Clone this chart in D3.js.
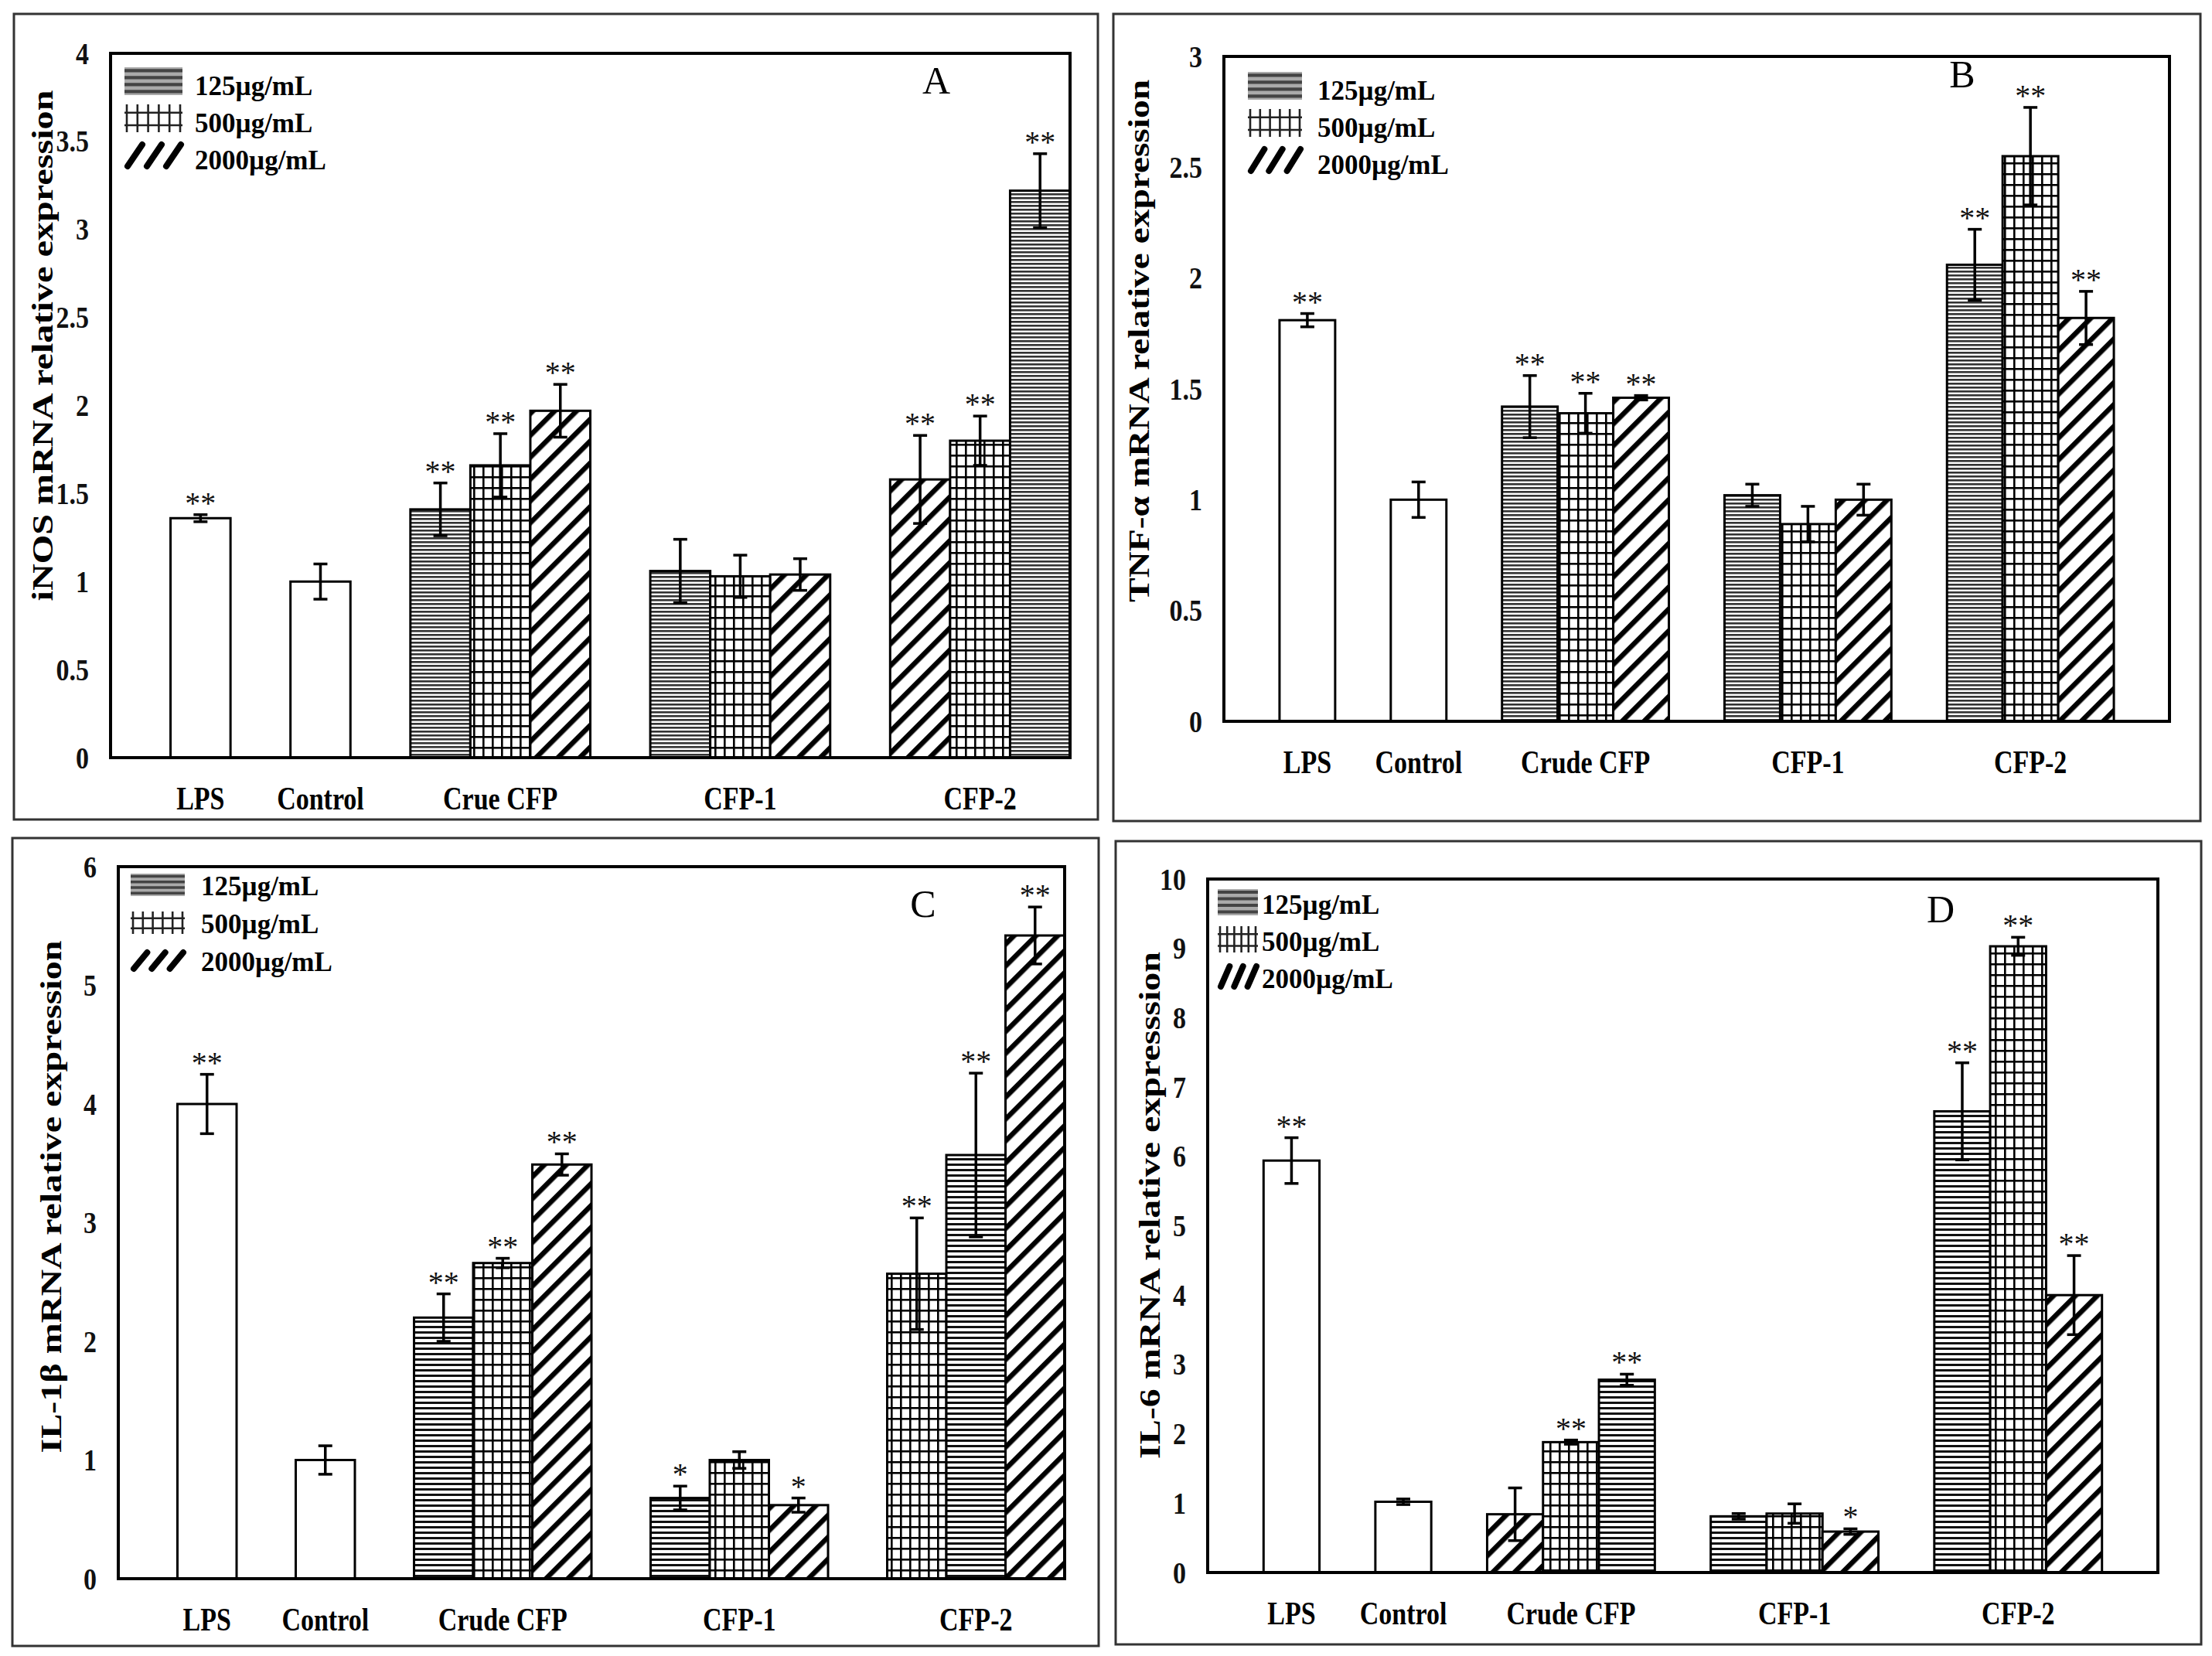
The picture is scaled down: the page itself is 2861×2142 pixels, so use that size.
<!DOCTYPE html>
<html>
<head>
<meta charset="utf-8">
<script src="https://cdn.jsdelivr.net/npm/d3@7"></script>
<style>
  body { margin: 0; background: #fff; }
  svg { display: block; }
  text { font-family: "Liberation Serif", "Times New Roman", serif; }
</style>
</head>
<body>
<script>
var W = 2861, H = 2142

var catsA = ["LPS", "Control", "Crue CFP", "CFP-1", "CFP-2"]
var cats = ["LPS", "Control", "Crude CFP", "CFP-1", "CFP-2"]
var doses = ["125µg/mL", "500µg/mL", "2000µg/mL"]

// dose index per bar: -1 = open bar, 0 = 125, 1 = 500, 2 = 2000

// A - iNOS
var inosVal  = [[1.36], [1.00], [1.41, 1.66, 1.97], [1.06, 1.03, 1.04], [1.58, 1.80, 3.22]]
var inosErr  = [[0.02], [0.10], [0.15, 0.18, 0.15], [0.18, 0.12, 0.09], [0.25, 0.14, 0.21]]
var inosDose = [[-1], [-1], [0, 1, 2], [0, 1, 2], [2, 1, 0]]
var inosStar = [["**"], [""], ["**", "**", "**"], ["", "", ""], ["**", "**", "**"]]

// B - TNF-α
var tnfVal  = [[1.81], [1.00], [1.42, 1.39, 1.46], [1.02, 0.89, 1.00], [2.06, 2.55, 1.82]]
var tnfErr  = [[0.03], [0.08], [0.14, 0.09, 0.01], [0.05, 0.08, 0.07], [0.16, 0.22, 0.12]]
var tnfDose = [[-1], [-1], [0, 1, 2], [0, 1, 2], [0, 1, 2]]
var tnfStar = [["**"], [""], ["**", "**", "**"], ["", "", ""], ["**", "**", "**"]]

// C - IL-1β
var il1Val  = [[4.00], [1.00], [2.20, 2.66, 3.49], [0.68, 1.00, 0.62], [2.57, 3.57, 5.42]]
var il1Err  = [[0.25], [0.12], [0.20, 0.04, 0.09], [0.10, 0.07, 0.06], [0.47, 0.69, 0.24]]
var il1Dose = [[-1], [-1], [0, 1, 2], [0, 1, 2], [1, 0, 2]]
var il1Star = [["**"], [""], ["**", "**", "**"], ["*", "", "*"], ["**", "**", "**"]]

// D - IL-6
var il6Val  = [[5.94], [1.02], [0.84, 1.88, 2.78], [0.81, 0.85, 0.59], [6.65, 9.03, 4.00]]
var il6Err  = [[0.33], [0.04], [0.38, 0.03, 0.08], [0.04, 0.14, 0.04], [0.70, 0.13, 0.57]]
var il6Dose = [[-1], [-1], [2, 1, 0], [0, 1, 2], [0, 1, 2]]
var il6Star = [["**"], [""], ["", "**", "**"], ["", "", "*"], ["**", "**", "**"]]

var panels = [
  {id: "A", cats: catsA, val: inosVal, err: inosErr, dose: inosDose, star: inosStar,
   title: "iNOS mRNA relative expression", yMax: 4, yStep: 0.5,
   box: [18, 18, 1420, 1060], plot: [143, 69, 1384, 980], slots: 16,
   titleX: 55, titleY: 447, titleLen: 661, letterX: 1211, letterY: 121,
   legend: {x: 161, top: 87, w: 75, h: 36, gap: 48, tx: 252, base: 123},
   hStep: 5, hLine: 2.6, hColor: "#333"},
  {id: "B", cats: cats, val: tnfVal, err: tnfErr, dose: tnfDose, star: tnfStar,
   title: "TNF-α mRNA relative expression", yMax: 3, yStep: 0.5,
   box: [1440, 18, 2846, 1062], plot: [1583, 73, 2806, 933], slots: 17,
   titleX: 1473, titleY: 441, titleLen: 676, letterX: 2538, letterY: 113,
   legend: {x: 1614, top: 93, w: 70, h: 36, gap: 48, tx: 1704, base: 129},
   hStep: 5, hLine: 2.6, hColor: "#333"},
  {id: "C", cats: cats, val: il1Val, err: il1Err, dose: il1Dose, star: il1Star,
   title: "IL-1β mRNA relative expression", yMax: 6, yStep: 1,
   box: [16, 1084, 1421, 2129], plot: [153, 1121, 1377, 2042], slots: 16,
   titleX: 66, titleY: 1548, titleLen: 663, letterX: 1194, letterY: 1186,
   legend: {x: 169, top: 1130, w: 70, h: 29, gap: 49, tx: 260, base: 1158},
   hStep: 7, hLine: 3, hColor: "#111"},
  {id: "D", cats: cats, val: il6Val, err: il6Err, dose: il6Dose, star: il6Star,
   title: "IL-6 mRNA relative expresssion", yMax: 10, yStep: 1,
   box: [1443, 1088, 2847, 2127], plot: [1562, 1137, 2791, 2034], slots: 17,
   titleX: 1487, titleY: 1559, titleLen: 656, letterX: 2510, letterY: 1193,
   legend: {x: 1575, top: 1150, w: 52, h: 34, gap: 48, tx: 1632, base: 1182},
   hStep: 7, hLine: 3, hColor: "#111"}
]

var svg = d3.select("body").append("svg")
    .attr("width", W)
    .attr("height", H)

svg.append("rect").attr("width", W).attr("height", H).attr("fill", "#fff")

var defs = svg.append("defs")

function makePatterns(p){
  var h = defs.append("pattern").attr("id", "h" + p.id)
      .attr("patternUnits", "userSpaceOnUse")
      .attr("width", 10).attr("height", p.hStep)
  h.append("rect").attr("width", 10).attr("height", p.hStep).attr("fill", "#fff")
  h.append("rect").attr("width", 10).attr("height", p.hLine).attr("fill", p.hColor)

  var g = defs.append("pattern").attr("id", "g" + p.id)
      .attr("patternUnits", "userSpaceOnUse")
      .attr("width", 12).attr("height", 14)
  g.append("rect").attr("width", 12).attr("height", 14).attr("fill", "#fff")
  g.append("rect").attr("width", 2.6).attr("height", 14).attr("fill", "#000")
  g.append("rect").attr("width", 12).attr("height", 2.6).attr("fill", "#000")

  var d = defs.append("pattern").attr("id", "d" + p.id)
      .attr("patternUnits", "userSpaceOnUse")
      .attr("width", 20).attr("height", 20)
      .attr("patternTransform", "rotate(45)")
  d.append("rect").attr("width", 20).attr("height", 20).attr("fill", "#fff")
  d.append("rect").attr("width", 6.5).attr("height", 20).attr("fill", "#000")
}

function fillFor(p, dose){
  if(dose == 0) return "url(#h" + p.id + ")"
  if(dose == 1) return "url(#g" + p.id + ")"
  if(dose == 2) return "url(#d" + p.id + ")"
  return "#fff"
}

function drawLegend(g, p){
  var L = p.legend
  doses.forEach(function(name, i){
    var top = L.top + i * L.gap
    var sw = g.append("g")
    if(i == 0){
      sw.append("rect").attr("x", L.x).attr("y", top).attr("width", L.w).attr("height", L.h)
        .attr("fill", "#aaa")
      for(var k = 0; k < 4; k++){
        sw.append("line")
          .attr("x1", L.x).attr("x2", L.x + L.w)
          .attr("y1", top + L.h * (0.12 + k * 0.25)).attr("y2", top + L.h * (0.12 + k * 0.25))
          .attr("stroke", "#444").attr("stroke-width", L.h * 0.12)
      }
    }else if(i == 1){
      for(var k = 0; k < 6; k++){
        var xx = L.x + 3 + k * (L.w - 6) / 5
        sw.append("line").attr("x1", xx).attr("x2", xx)
          .attr("y1", top).attr("y2", top + L.h)
          .attr("stroke", "#222").attr("stroke-width", 2.6)
      }
      ;[0.3, 0.75].forEach(function(f){
        sw.append("line").attr("x1", L.x).attr("x2", L.x + L.w)
          .attr("y1", top + L.h * f).attr("y2", top + L.h * f)
          .attr("stroke", "#222").attr("stroke-width", 2.6)
      })
    }else{
      for(var k = 0; k < 3; k++){
        var x0 = L.x + k * L.w / 3
        sw.append("line")
          .attr("x1", x0 + 4).attr("y1", top + L.h - 4)
          .attr("x2", x0 + L.w / 3 - 2).attr("y2", top + 4)
          .attr("stroke", "#000").attr("stroke-width", 8).attr("stroke-linecap", "round")
      }
    }
    g.append("text")
      .attr("transform", "translate(" + L.tx + "," + (L.base + i * L.gap) + ") scale(1,1.05)")
      .attr("font-size", 35).attr("font-weight", "bold")
      .text(name)
  })
}

function drawPanel(p){
  makePatterns(p)
  var g = svg.append("g").attr("id", "panel" + p.id)

  g.append("rect")
    .attr("x", p.box[0]).attr("y", p.box[1])
    .attr("width", p.box[2] - p.box[0]).attr("height", p.box[3] - p.box[1])
    .attr("fill", "none").attr("stroke", "#333").attr("stroke-width", 3)

  var x = d3.scaleLinear().domain([-1, p.slots - 1]).range([p.plot[0], p.plot[2]])
  var y = d3.scaleLinear().domain([0, p.yMax]).range([p.plot[3], p.plot[1]])

  // lay the groups out in slots with one empty slot between groups
  var bars = [], labels = [], slot = 0
  p.val.forEach(function(arr, gi){
    var first = slot
    arr.forEach(function(v, j){
      bars.push({slot: slot, v: v, e: p.err[gi][j], dose: p.dose[gi][j], star: p.star[gi][j]})
      slot++
    })
    labels.push({name: p.cats[gi], mid: (first + slot) / 2})
    slot++
  })

  g.selectAll(".bar")
      .data(bars)
    .enter().append("rect")
      .attr("class", "bar")
      .attr("x", function(d){ return x(d.slot) })
      .attr("width", function(d){ return x(d.slot + 1) - x(d.slot) })
      .attr("y", function(d){ return y(d.v) })
      .attr("height", function(d){ return y(0) - y(d.v) })
      .attr("fill", function(d){ return fillFor(p, d.dose) })
      .attr("stroke", "#000")
      .attr("stroke-width", 3)

  var cap = 9
  var eb = g.selectAll(".err")
      .data(bars)
    .enter().append("g")
      .attr("class", "err")
      .attr("stroke", "#000")
      .attr("stroke-width", 3.5)
  eb.append("line")
    .attr("x1", function(d){ return x(d.slot + 0.5) })
    .attr("x2", function(d){ return x(d.slot + 0.5) })
    .attr("y1", function(d){ return y(d.v + d.e) })
    .attr("y2", function(d){ return y(d.v - d.e) })
  eb.append("line")
    .attr("x1", function(d){ return x(d.slot + 0.5) - cap })
    .attr("x2", function(d){ return x(d.slot + 0.5) + cap })
    .attr("y1", function(d){ return y(d.v + d.e) })
    .attr("y2", function(d){ return y(d.v + d.e) })
  eb.append("line")
    .attr("x1", function(d){ return x(d.slot + 0.5) - cap })
    .attr("x2", function(d){ return x(d.slot + 0.5) + cap })
    .attr("y1", function(d){ return y(d.v - d.e) })
    .attr("y2", function(d){ return y(d.v - d.e) })

  // plot box
  g.append("rect")
    .attr("x", p.plot[0]).attr("y", p.plot[1])
    .attr("width", p.plot[2] - p.plot[0]).attr("height", p.plot[3] - p.plot[1])
    .attr("fill", "none").attr("stroke", "#000").attr("stroke-width", 4)

  g.selectAll(".star")
      .data(bars.filter(function(d){ return d.star }))
    .enter().append("text")
      .attr("class", "star")
      .attr("x", function(d){ return x(d.slot + 0.5) })
      .attr("y", function(d){ return y(d.v + d.e) - 2 })
      .attr("text-anchor", "middle")
      .attr("font-size", 40)
      .attr("fill", "#111")
      .text(function(d){ return d.star })

  // y axis labels
  var ticks = d3.range(0, p.yMax + p.yStep / 2, p.yStep)
  var ax = g.append("g")
    .attr("transform", "translate(" + p.plot[0] + ",0)")
    .call(d3.axisLeft(y).tickValues(ticks).tickSize(0).tickPadding(28)
      .tickFormat(function(d){ return String(+d.toFixed(1)) }))
  ax.select(".domain").remove()
  ax.selectAll(".tick text")
    .attr("font-family", "Liberation Serif, Times New Roman, serif")
    .attr("font-size", 34)
    .attr("font-weight", "bold")
    .attr("fill", "#111")
    .attr("transform", "scale(1,1.2)")

  // category labels
  labels.forEach(function(l){
    g.append("text")
      .attr("transform", "translate(" + x(l.mid) + "," + (p.plot[3] + 67) + ") scale(1,1.22)")
      .attr("text-anchor", "middle")
      .attr("font-size", 34)
      .attr("font-weight", "bold")
      .text(l.name)
  })

  // y title
  g.append("text")
    .attr("transform", "translate(" + p.titleX + "," + p.titleY + ") rotate(-90)")
    .attr("text-anchor", "middle")
    .attr("dominant-baseline", "central")
    .attr("font-size", 37)
    .attr("font-weight", "bold")
    .attr("textLength", p.titleLen)
    .attr("lengthAdjust", "spacingAndGlyphs")
    .text(p.title)

  // panel letter
  g.append("text")
    .attr("x", p.letterX).attr("y", p.letterY)
    .attr("text-anchor", "middle")
    .attr("font-size", 50)
    .text(p.id)

  drawLegend(g, p)
}

panels.forEach(drawPanel)
</script>
</body>
</html>
